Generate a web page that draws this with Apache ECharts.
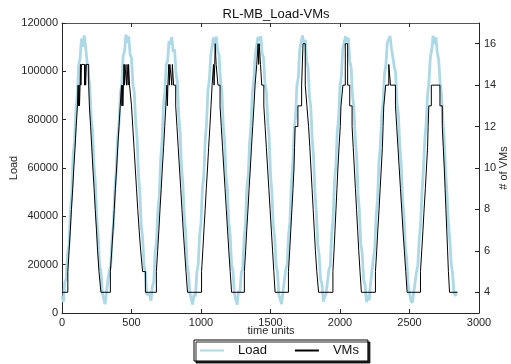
<!DOCTYPE html>
<html>
<head>
<meta charset="utf-8">
<script src="https://cdn.jsdelivr.net/npm/echarts@6/dist/echarts.min.js"></script>
<style>html,body{margin:0;padding:0;background:#fff;}#c{width:511px;height:364px;}</style>
</head>
<body>
<div id="c"></div>
<script>
// ---- data ----
const chartTitle = 'RL-MB_Load-VMs';
const loadStart = 0;
const loadStep = 10; // time units between load samples
const loadValues = [
 7000,4600,12700,14000,24500,28000,41700,49500,65300,70700,84100,90000,102500,105300,113500,110200,114900,110100,109600,98300,93900,80600,75400,61100,54300,38800,31800,19800,17000,8400,9200,
 3700,8900,8600,17500,19100,30900,36000,50900,58700,72600,78100,91000,94700,106600,108100,115200,111900,114500,107000,105500,94800,91300,79000,72500,57500,49900,36200,31200,19900,16900,7700,7700,
 7700,5100,11000,12600,25200,29600,42700,48500,63600,71100,86000,91600,102800,104200,112600,111100,114200,108100,109100,99300,95400,81600,74300,59800,53300,39700,33500,20100,16700,8100,8700,
 3500,7800,6900,16700,20200,32300,37200,51300,56600,71200,78500,92100,96400,106400,107000,114000,111300,114400,108400,106800,95900,92100,77900,71000,56800,50900,37400,31700,20100,17400,8000,7900,
 3500,9300,8400,16800,18400,30500,37000,52100,57200,70800,77600,91500,96300,106900,106400,114200,112600,114600,107200,105700,95000,91900,79100,73000,57600,49900,36300,31300,19800,17200,7600,8000,
 3700,9000,8900,18100,20100,32300,37900,53200,61400,75600,81200,94100,97500,108900,109700,114800,111600,113000,104300,101600,89700,85100,71800,64700,49300,41600,28300,24000,13800,12200,4700,
 4000,8100,8800,17800,19400,32200,38700,54100,60800,74900,80600,93600,98200,109200,109400,114500,112200,113900,104300,101700,89800,85000,71700,64600,49300,41700,28300,24500,13700,11700,4500,
 7500,5200,12300,12500,22400,26700,40400,46700,62400,68800,81900,86900,99000,102400,111800,111000,114600,109600,110400,102000,99500,86900,82500,69000,62200,47100,40200,27300,22500,11800,11200,5100,
 4200,8400,9100,16800,19800,30200,36900,50100,59400,71800,78900,90300,95600,105900,108800,114700,111300,114100,107600,104800,95500,90600,79700,71800,58200,49200,36900,30500,20600,16200,8300,7100,
 9000
];
// VM count change points: count holds from each time until the next one
const vmTimes = [
 0,
 42,51,60,68,77,85,94,102,111,116,119,123,126,130,133,136,140,162,166,170,175,192,197,206,214,222,231,239,248,256,266,280,
 348,358,367,376,384,393,401,410,419,428,431,435,438,442,446,449,453,464,468,476,479,486,500,509,518,527,536,545,555,566,580,600,
 679,688,697,705,714,722,731,739,747,755,758,762,768,772,776,790,794,803,818,827,836,845,854,863,872,882,892,903,
 1004,1013,1021,1030,1038,1047,1055,1064,1072,1080,1090,1094,1099,1102,1109,1122,1137,1146,1155,1164,1173,1182,1191,1200,1210,1220,
 1312,1321,1329,1338,1346,1355,1363,1372,1381,1389,1401,1411,1415,1419,1428,1437,1452,1461,1470,1479,1488,1497,1506,1515,1524,1533,
 1629,1638,1646,1654,1662,1669,1673,1677,1697,1724,1734,1750,1762,1774,1783,1791,1799,1807,1815,1823,1833,1846,
 1949,1957,1964,1971,1978,1985,1993,2002,2007,2021,2038,2055,2070,2087,2095,2103,2111,2119,2127,2135,2144,2154,
 2255,2264,2272,2281,2289,2297,2305,2310,2315,2329,2351,2363,2399,2408,2417,2426,2435,2444,2453,2463,2473,2483,
 2579,2588,2597,2605,2614,2622,2630,2634,2639,2657,2719,2736,2743,2750,2756,2762,2768,2774,2780,2788,2844
];
const vmCounts = [
 4,
 5,6,7,8,9,10,11,12,13,14,13,14,13,14,15,14,15,14,15,14,15,14,13,12,11,10,9,8,7,6,5,4,
 5,6,7,8,9,10,11,12,13,14,13,14,13,14,15,14,15,14,15,14,15,14,13,12,11,10,9,8,7,6,5,4,
 5,6,7,8,9,10,11,12,13,14,13,14,15,14,15,14,15,14,13,12,11,10,9,8,7,6,5,4,
 5,6,7,8,9,10,11,12,13,14,15,14,15,16,15,14,13,12,11,10,9,8,7,6,5,4,
 5,6,7,8,9,10,11,12,13,14,15,16,15,16,15,14,13,12,11,10,9,8,7,6,5,4,
 5,6,7,8,9,10,11,12,13,14,16,14,13,12,11,10,9,8,7,6,5,4,
 5,6,7,8,9,10,11,12,13,14,16,14,13,12,11,10,9,8,7,6,5,4,
 5,6,7,8,9,10,11,12,13,14,15,14,13,12,11,10,9,8,7,6,5,4,
 5,6,7,8,9,10,11,12,13,14,13,12,11,10,9,8,7,6,5,4,4
];
const xTickValues = [0, 500, 1000, 1500, 2000, 2500, 3000];
const loadTickValues = [0, 20000, 40000, 60000, 80000, 100000, 120000];
const vmTickValues = [4, 6, 8, 10, 12, 14, 16];
const seriesNames = ['Load', 'VMs'];
const axisNames = { x: 'time units', load: 'Load', vm: '# of VMs' };

// ---- build ----
const loadData = loadValues.map((v, i) => [loadStart + i * loadStep, v]);
const vmData = vmTimes.map((t, i) => [t, vmCounts[i]]);

const FONT = 'Liberation Sans';
const AX = '#262626';
const txt = { color: '#262626', fontFamily: FONT, fontSize: 11 };
const plain = v => String(v);
const nameText = (text, x, y, rot) => ({
  type: 'text', x: x, y: y, rotation: rot, silent: true,
  style: { text: text, fill: '#262626', fontFamily: FONT, fontSize: 11,
           align: 'center', verticalAlign: 'middle', textAlign: 'center', textVerticalAlign: 'middle' }
});

const chart = echarts.init(document.getElementById('c'), null, { renderer: 'canvas' });
chart.setOption({
  animation: false,
  backgroundColor: '#fff',
  title: {
    text: chartTitle, left: 271, top: 3, textAlign: 'center',
    textStyle: { fontFamily: FONT, fontSize: 13, fontWeight: 'normal', color: '#111' }
  },
  grid: { left: 62, right: 32, top: 23, bottom: 51, containLabel: false, outerBoundsMode: 'none' },
  graphic: [
    nameText(axisNames.x, 271, 331, 0),
    nameText(axisNames.load, 14, 168, Math.PI / 2),
    nameText(axisNames.vm, 504, 168, Math.PI / 2)
  ],
  legend: {
    left: 194, top: 340, orient: 'horizontal',
    data: [
      { name: seriesNames[0], icon: 'rect', itemStyle: { color: '#add8e6' } },
      { name: seriesNames[1], icon: 'rect', itemStyle: { color: '#000' } }
    ],
    itemWidth: 24, itemHeight: 2, itemGap: 28,
    padding: [4, 9, 4, 6],
    borderColor: '#000', borderWidth: 1, borderRadius: 0,
    backgroundColor: '#fff',
    shadowColor: 'rgba(0,0,0,0.85)', shadowOffsetX: 2, shadowOffsetY: 2, shadowBlur: 0,
    textStyle: { fontFamily: FONT, fontSize: 13, color: '#111', padding: [0, 0, 0, 9] }
  },
  xAxis: [
    {
      type: 'value', min: 0, max: 3000, interval: 500, position: 'bottom',
      axisLine: { show: true, onZero: false, lineStyle: { color: AX, width: 1 } },
      axisTick: { show: true, inside: true, length: 4, lineStyle: { color: AX } },
      axisLabel: Object.assign({ margin: 4, customValues: xTickValues, formatter: plain }, txt),
      splitLine: { show: false }
    },
    {
      type: 'value', min: 0, max: 3000, interval: 500, position: 'top',
      axisLine: { show: true, onZero: false, lineStyle: { color: '#555', width: 1 } },
      axisTick: { show: true, inside: true, length: 4, lineStyle: { color: AX } },
      axisLabel: { show: false },
      splitLine: { show: false }
    }
  ],
  yAxis: [
    {
      type: 'value', min: 0, max: 120000, interval: 20000, position: 'left',
      axisLine: { show: true, onZero: false, lineStyle: { color: AX, width: 1 } },
      axisTick: { show: true, inside: true, length: 4, lineStyle: { color: AX } },
      axisLabel: Object.assign({ margin: 4, customValues: loadTickValues, formatter: plain }, txt),
      splitLine: { show: false }
    },
    {
      type: 'value', min: 3, max: 17, position: 'right',
      axisLine: { show: true, onZero: false, lineStyle: { color: AX, width: 1 } },
      axisTick: { show: true, inside: true, length: 4, customValues: vmTickValues, lineStyle: { color: AX } },
      axisLabel: Object.assign({ margin: 5, customValues: vmTickValues, formatter: plain }, txt),
      splitLine: { show: false }
    }
  ],
  series: [
    {
      name: seriesNames[0], type: 'line', xAxisIndex: 0, yAxisIndex: 0,
      data: loadData, showSymbol: false, symbol: 'none',
      lineStyle: { color: '#add8e6', width: 2.8 }, itemStyle: { color: '#add8e6' },
      z: 2
    },
    {
      name: seriesNames[1], type: 'line', xAxisIndex: 0, yAxisIndex: 1,
      data: vmData, step: 'end', showSymbol: false, symbol: 'none',
      lineStyle: { color: '#000', width: 1 }, itemStyle: { color: '#000' },
      z: 3
    }
  ]
});
</script>
</body>
</html>
